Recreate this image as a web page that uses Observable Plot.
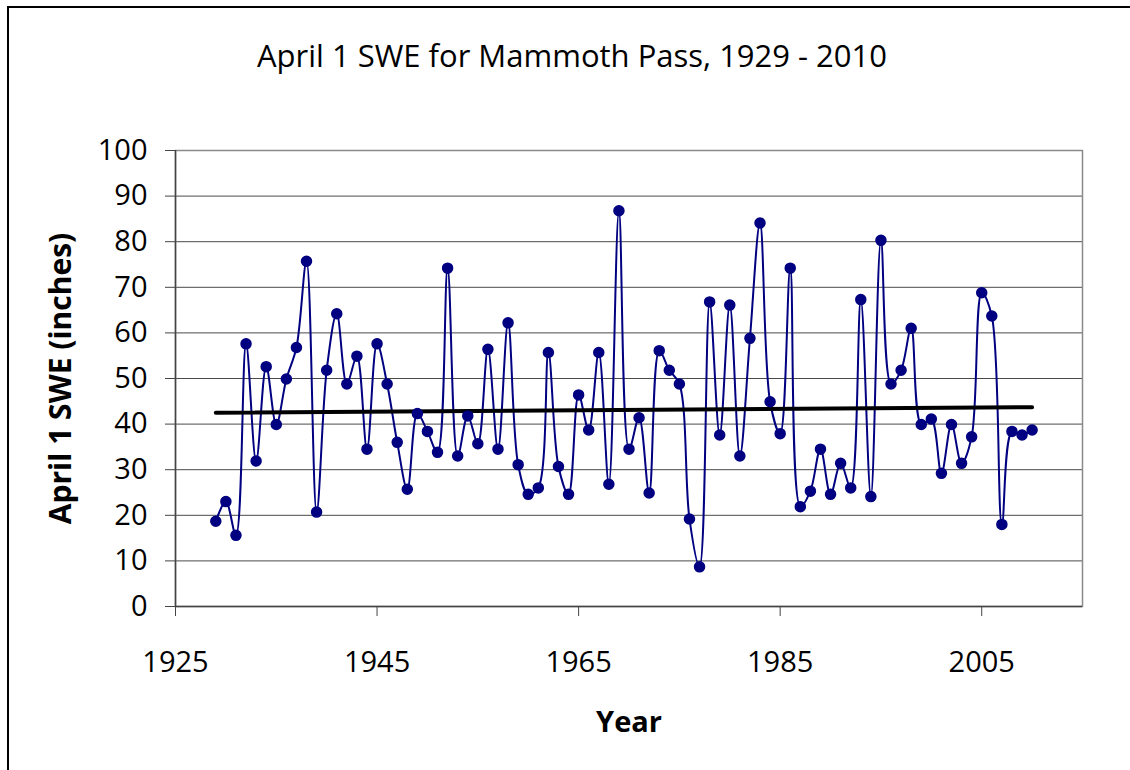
<!DOCTYPE html>
<html>
<head>
<meta charset="utf-8">
<script src="https://cdn.jsdelivr.net/npm/d3@7"></script>
<script src="https://cdn.jsdelivr.net/npm/@observablehq/plot@0.6"></script>
<style>
  html, body { margin: 0; padding: 0; background: #fff; }
  #wrap { position: relative; width: 1130px; height: 770px; overflow: hidden; font-family: "Open Sans", sans-serif; }
  #border { position: absolute; z-index: 10; left: 7px; top: 6px; width: 1300px; height: 1000px; border: 2px solid #000; box-sizing: border-box; pointer-events: none; }
  #title { height: 120px; box-sizing: border-box; padding-top: 40px; padding-left: 14px; text-align: center; font-size: 31px; line-height: 31px; color: #000; }
  #chart { position: relative; }
</style>
</head>
<body>
<div id="wrap">
  <div id="border"></div>
  <div id="title">April 1 SWE for Mammoth Pass, 1929 - 2010</div>
  <div id="chart"></div>
</div>
<script>
const years = d3.range(1929, 2011);
const swe = [
  18.7, 23.0, 15.6, 57.6, 31.9, 52.6, 39.9, 49.9, 56.8, 75.7,
  20.7, 51.8, 64.2, 48.8, 54.9, 34.5, 57.6, 48.8, 36.0,
  25.7, 42.3, 38.4, 33.8, 74.2, 33.0, 41.8, 35.7, 56.4, 34.5,
  62.2, 31.1, 24.6, 26.0, 55.7, 30.7, 24.6, 46.4, 38.7, 55.7, 26.8,
  86.8, 34.5, 41.4, 24.9, 56.1, 51.8, 48.8, 19.2, 8.7, 66.8,
  37.6, 66.1, 33.0, 58.8, 84.1, 44.9, 37.9, 74.2, 21.9, 25.3,
  34.5, 24.6,
  31.4, 26.0, 67.3, 24.1, 80.3, 48.8, 51.8, 61.0, 39.9, 41.1,
  29.2, 39.9, 31.4, 37.2, 68.8, 63.7, 18.0, 38.4, 37.6, 38.7
];
const xTicks = [1925, 1945, 1965, 1985, 2005];
const yTicks = [0, 10, 20, 30, 40, 50, 60, 70, 80, 90, 100];
const xTitle = "Year";
const yTitle = "April 1 SWE (inches)";

const data = years.map((year, i) => ({year, value: swe[i]}));
const navy = "#000080";

const chart = Plot.plot({
  width: 1130,
  height: 650,
  marginLeft: 175,
  marginRight: 48,
  marginTop: 30,
  marginBottom: 164,
  style: {fontFamily: "Open Sans, sans-serif", background: "white", overflow: "visible"},
  x: {domain: [1925, 2015]},
  y: {domain: [0, 100]},
  marks: [
    Plot.ruleY(yTicks, {stroke: "#4a4a4a", strokeWidth: 1}),
    Plot.frame({stroke: "#8a8a8a", strokeWidth: 1.5}),
    Plot.axisY({ticks: yTicks, tickSize: 10, tickPadding: 18, fontSize: 29, label: null, stroke: "#444", color: "#000"}),
    Plot.axisX({ticks: xTicks, tickFormat: d => String(d), tickSize: 10, tickPadding: 35, fontSize: 29, label: null, stroke: "#444", color: "#000"}),
    Plot.ruleX([1925], {y1: 0, y2: 100, stroke: "#444", strokeWidth: 1.5}),
    Plot.ruleY([0], {stroke: "#444", strokeWidth: 1.5}),
    Plot.line(data, {x: "year", y: "value", stroke: navy, strokeWidth: 2, curve: "catmull-rom"}),
    Plot.linearRegressionY(data, {x: "year", y: "value", stroke: "#000", strokeWidth: 4, ci: 0}),
    Plot.dot(data, {x: "year", y: "value", r: 5, fill: navy, stroke: navy}),
    Plot.text([xTitle], {frameAnchor: "bottom", dy: 125, fontSize: 29, fontWeight: "bold", fill: "#000"}),
    Plot.text([yTitle], {frameAnchor: "left", textAnchor: "middle", dx: -114, rotate: -90, fontSize: 30, fontWeight: "bold", fill: "#000"})
  ]
});
document.getElementById("chart").appendChild(chart);
</script>
</body>
</html>
